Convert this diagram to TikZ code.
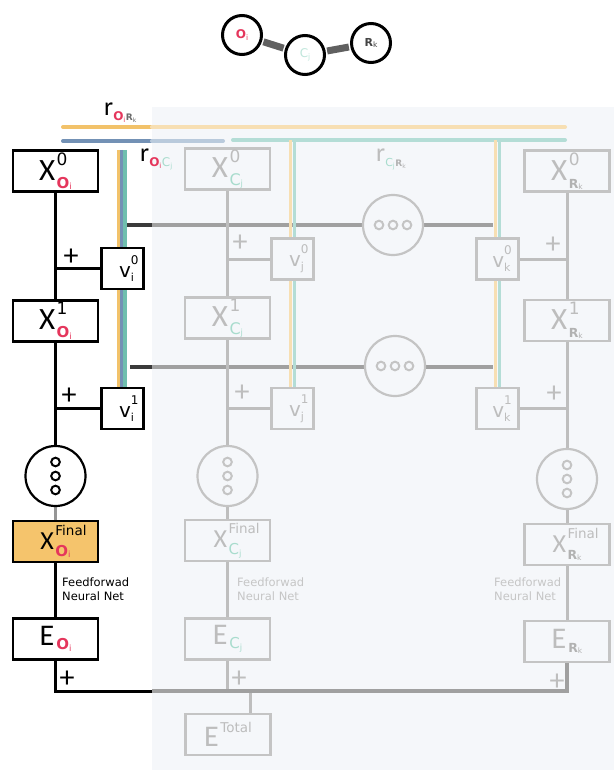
\documentclass[tikz,border=0pt]{standalone}
\usepackage{fontspec}
\setmainfont{DejaVu Sans}
\newfontfamily\cf{Carlito}
\usetikzlibrary{calc}
\definecolor{pk}{HTML}{E5365C}
\definecolor{tlf}{HTML}{A8DCCD}
\definecolor{tlp}{HTML}{BFE6DB}
\definecolor{orangef}{HTML}{F5C46C}
\definecolor{ylw}{HTML}{F2C26A}
\definecolor{blu}{HTML}{7391B5}
\definecolor{tealL}{HTML}{6FBFAE}
\definecolor{panel}{HTML}{F5F7FA}
\definecolor{fg}{HTML}{C4C4C4}
\definecolor{fgl}{HTML}{BEBEBE}
\definecolor{fgb}{HTML}{A0A0A0}
\definecolor{fylw}{HTML}{F7DFB3}
\definecolor{fblu}{HTML}{B9CADC}
\definecolor{ftl}{HTML}{B4DDD6}
\definecolor{ftxt}{HTML}{BDBDBD}
\definecolor{ffeed}{HTML}{C6C6C6}
\definecolor{fR}{HTML}{B2B2B2}
\definecolor{rg}{HTML}{6A6A6A}
\definecolor{rgd}{HTML}{444444}
\pgfdeclarelayer{bg}\pgfdeclarelayer{ln}\pgfsetlayers{bg,ln,main}
\newcommand\SX[6]{{\cf\fontsize{#1}{#1}\selectfont #2}\kern1.5pt\rlap{\raisebox{#3}{#4}}\raisebox{-#5}{#6}}
\newcommand\subO[2]{{\color{pk}\fontsize{#1}{#1}\selectfont\bfseries O\raisebox{-1.5pt}{\fontsize{#2}{#2}\selectfont\mdseries i}}}
\newcommand\subC[3]{{\color{#1}\fontsize{#2}{#2}\selectfont C\raisebox{-1.5pt}{\fontsize{#3}{#3}\selectfont j}}}
\newcommand\subR[3]{{\color{#1}\fontsize{#2}{#2}\selectfont\bfseries R\raisebox{-1.5pt}{\fontsize{#3}{#3}\selectfont\mdseries k}}}
\newcommand\Xlab[2]{\SX{31}{X}{15pt}{\fontsize{17}{17}\selectfont #1}{8pt}{#2}}
\newcommand\XFlab[1]{\SX{26}{X}{14pt}{\fontsize{13.5}{13.5}\selectfont Final}{7pt}{#1}}
\newcommand\Elab[1]{{\cf\fontsize{30}{30}\selectfont E}\kern2pt\raisebox{-4pt}{#1}}
\newcommand\vlab[2]{\kern8pt{\fontsize{20}{20}\selectfont v}\rlap{\raisebox{13pt}{\fontsize{12}{12}\selectfont #1}}\raisebox{-4pt}{\fontsize{11}{11}\selectfont #2}}
\newcommand\rlab[1]{{\cf\fontsize{26}{26}\selectfont r}\raisebox{-5pt}{#1}}
\begin{document}
\begin{tikzpicture}[x=1pt,y=-1pt,
  box/.style={draw, line width=2.5pt, minimum width=85pt, minimum height=41pt, inner sep=0pt, fill=white},
  fbox/.style={box, draw=fg, fill=panel, text=ftxt},
  obox/.style={box, fill=orangef},
  vbox/.style={draw, line width=2.5pt, minimum width=42pt, minimum height=41pt, inner sep=0pt, fill=white},
  fvbox/.style={vbox, draw=fg, fill=panel, text=ftxt},
  dcirc/.style={circle, draw, line width=2.2pt, minimum size=60pt, inner sep=0pt, fill=white},
  fdcirc/.style={dcirc, draw=fg, fill=panel},
  atom/.style={circle, draw, line width=3pt, minimum size=39pt, inner sep=0pt, fill=white},
  bond/.style={line width=7pt, draw={rgb,255:red,96;green,96;blue,96}, shorten <=1.5pt, shorten >=1.5pt},
  blk/.style={line width=3pt, draw=black},
  gln/.style={line width=3pt, draw=fgl},
  cline/.style={line width=4pt, line cap=round},
  plus/.style={font=\cf\fontsize{30}{30}\selectfont, inner sep=0pt},
  dot/.style={line width=2pt},
  feed/.style={anchor=north west, align=left, font=\fontsize{11.5}{14}\selectfont, inner sep=0pt}
]
\useasboundingbox (0,0) rectangle (614,770);
\begin{pgfonlayer}{bg}
\fill[panel] (152,107) rectangle (614,770);
\end{pgfonlayer}

% molecule
\node[atom] (mO) at (242,35) {\subO{12}{7.5}};
\node[atom] (mC) at (305,55) {\raisebox{-3pt}{\subC{tlp}{12}{7.5}}};
\node[atom] (mR) at (371,43) {\subR{rgd}{11}{7.5}};
\draw[bond] (mO) -- (mC);
\draw[bond] (mC) -- (mR);

% labels r
\node[anchor=base west, inner sep=0pt] (rOR) at (104,116) {\rlab{\subO{12}{7}\kern0.5pt\subR{rg}{9}{6}}};
\node[anchor=base west, inner sep=0pt] (rOC) at (140,162) {\rlab{\subO{12}{7}\kern0.5pt\subC{tlf}{12}{7}}};
\node[anchor=base west, inner sep=0pt, text=ftxt] (rCR) at (376,162) {\rlab{\subC{tlf}{11}{7}\kern0.5pt\subR{fR}{9}{6}}};

% left column
\node[box] (XO0) at (55.5,171) {\Xlab{0}{\subO{15}{8.5}}};
\node[box] (XO1) at (55.5,321) {\Xlab{1}{\subO{15}{8.5}}};
\node[vbox] (vi0) at (122.5,268.5) {\vlab{0}{i}};
\node[vbox] (vi1) at (122.5,408.5) {\vlab{1}{i}};
\node[dcirc] (cO) at (55.5,476) {};
\node[obox] (XOF) at (55.5,541.5) {\XFlab{\subO{15}{8.5}}};
\node[box] (EO) at (55.5,639) {\Elab{\subO{15}{8.5}}};
\node[feed] (fO) at (62,578) {Feedforwad\\Neural Net};

% center column
\node[fbox] (XC0) at (227.5,169) {\Xlab{0}{\subC{tlf}{16}{8.5}}};
\node[fbox] (XC1) at (227.5,318) {\Xlab{1}{\subC{tlf}{16}{8.5}}};
\node[fvbox] (vj0) at (292.5,259) {\vlab{0}{j}};
\node[fvbox] (vj1) at (292.5,408.5) {\vlab{1}{j}};
\node[fdcirc] (cC) at (227.5,476) {};
\node[fbox] (XCF) at (227.5,540.5) {\XFlab{\subC{tlf}{15}{8.5}}};
\node[fbox] (EC) at (227.5,639) {\Elab{\subC{tlf}{15}{8.5}}};
\node[feed, text=ffeed] (fC) at (237,578) {Feedforwad\\Neural Net};
\node[fbox] (ET) at (228,734.5) {{\cf\fontsize{30}{30}\selectfont E}\kern1.5pt\raisebox{14pt}{\fontsize{13.5}{13.5}\selectfont Total}};

% right column
\node[fbox] (XR0) at (567,171) {\Xlab{0}{\subR{fR}{12.5}{7.5}}};
\node[fbox] (XR1) at (567,320.5) {\Xlab{1}{\subR{fR}{12.5}{7.5}}};
\node[fvbox] (vk0) at (497.5,259) {\vlab{0}{k}};
\node[fvbox] (vk1) at (497.5,408.5) {\vlab{1}{k}};
\node[fdcirc] (cR) at (567,479) {};
\node[fbox] (XRF) at (567,544.5) {\XFlab{\subR{fR}{12.5}{7.5}}};
\node[fbox] (ER) at (567,641.5) {\Elab{\subR{fR}{12.5}{7.5}}};
\node[feed, text=ffeed] (fR) at (494,578) {Feedforwad\\Neural Net};

% horizontal "ooo" circles
\node[fdcirc] (hc1) at (393,225) {};
\node[fdcirc] (hc2) at (395,366) {};

% dots in circles
\foreach \c/\col in {cO/black, cC/fg, cR/fg}{
  \foreach \d in {-14,0,14}{
    \draw[dot, draw=\col] ([yshift=\d pt]\c.center) circle (4.3pt);
  }
}
\foreach \c in {hc1, hc2}{
  \foreach \d in {-14,0,14}{
    \draw[dot, draw=fg] ([xshift=\d pt]\c.center) circle (4.3pt);
  }
}

% plus signs
\foreach \n/\p in {p1/{(71,257)}, p2/{(69,396)}, p3/{(67,679)}}{
  \node[plus] (\n) at \p {+};
}
\foreach \n/\p in {p4/{(240,243)}, p5/{(242,393)}, p6/{(553,245)}, p7/{(554,394)}, p8/{(239,679)}, p9/{(557,682)}}{
  \node[plus, text=fgl] (\n) at \p {+};
}

% coordinates
\coordinate (yl) at (63,127); \coordinate (ym) at (152,127); \coordinate (yr) at (565,127);
\coordinate (bl) at (63,141); \coordinate (bm) at (152,141); \coordinate (br) at (223,141);
\coordinate (tl1) at (233,140); \coordinate (tr1) at (565,140);
\coordinate (lt) at (122.5,150);
\coordinate (ct) at (292.5,140);
\coordinate (rt) at (497.5,140);
\coordinate (h1L) at (127,225); \coordinate (h1M) at (152,225); \coordinate (h1R) at (493,225);
\coordinate (h2L) at (130,367); \coordinate (h2M) at (152,367); \coordinate (h2R) at (493,367);
\coordinate (busL) at (55.5,691); \coordinate (busM) at (152,691); \coordinate (busR) at (567,691);

\begin{pgfonlayer}{ln}
% top colored buses
\draw[cline, ylw] (yl) -- (ym);
\draw[cline, fylw] (ym) -- (yr);
\draw[cline, blu] (bl) -- (bm);
\draw[cline, fblu] (bm) -- (br);
\draw[cline, ftl] (tl1) -- (tr1);
% horizontal grey buses
\draw[line width=4.5pt, draw={rgb,255:red,58;green,58;blue,58}] (h1L) -- (h1M);
\draw[line width=4.5pt, draw=fgb] (h1M) -- (h1R);
\draw[line width=4.5pt, draw={rgb,255:red,58;green,58;blue,58}] (h2L) -- (h2M);
\draw[line width=4.5pt, draw=fgb] (h2M) -- (h2R);
% left column lines
\draw[blk] (XO0.south) -- (XO1.north);
\draw[blk] (vi0.west) -- (vi0.west -| XO0.south);
\draw[blk] (XO1.south) -- (cO.north);
\draw[blk] (vi1.west) -- (vi1.west -| XO1.south);
\draw[line width=3pt, draw={rgb,255:red,150;green,150;blue,150}] (cO.south) -- (XOF.north);
\draw[blk] (XOF.south) -- (EO.north);
\draw[blk, line join=miter] (EO.south) -- (busL) -- (busM);
% center column lines
\draw[gln] (XC0.south) -- (XC1.north);
\draw[gln] (vj0.west) -- (vj0.west -| XC0.south);
\draw[gln] (XC1.south) -- (cC.north);
\draw[gln] (vj1.west) -- (vj1.west -| XC1.south);
\draw[gln] (cC.south) -- (XCF.north);
\draw[gln] (XCF.south) -- (EC.north);
\draw[gln] (EC.south) -- (EC.south |- busM);
\draw[gln] ([xshift=22pt]ET.north) -- ([xshift=22pt]ET.north |- busM);
% right column lines
\draw[gln] (XR0.south) -- (XR1.north);
\draw[gln] (vk0.east) -- (vk0.east -| XR0.south);
\draw[gln] (XR1.south) -- (cR.north);
\draw[gln] (vk1.east) -- (vk1.east -| XR1.south);
\draw[gln] (cR.south) -- (XRF.north);
\draw[gln] (XRF.south) -- (ER.north);
\draw[line width=3.5pt, draw=fgb, line join=miter] (busM) -- (busR) -- (ER.south);
% colored verticals
\foreach \a/\b in {lt/vi0.north, vi0.south/vi1.north}{
  \draw[line width=3pt, ylw] ([xshift=-4pt]\a) -- ([xshift=-4pt]\b);
  \draw[line width=2.5pt, blu] ([xshift=-1.25pt]\a) -- ([xshift=-1.25pt]\b);
  \draw[line width=4.5pt, tealL] ([xshift=2.25pt]\a) -- ([xshift=2.25pt]\b);
}
\foreach \a/\b in {ct/vj0.north, vj0.south/vj1.north, rt/vk0.north, vk0.south/vk1.north}{
  \draw[line width=3.5pt, fylw] ([xshift=-1.8pt]\a) -- ([xshift=-1.8pt]\b);
  \draw[line width=3.6pt, ftl] ([xshift=1.8pt]\a) -- ([xshift=1.8pt]\b);
}
\end{pgfonlayer}
\end{tikzpicture}
\end{document}
